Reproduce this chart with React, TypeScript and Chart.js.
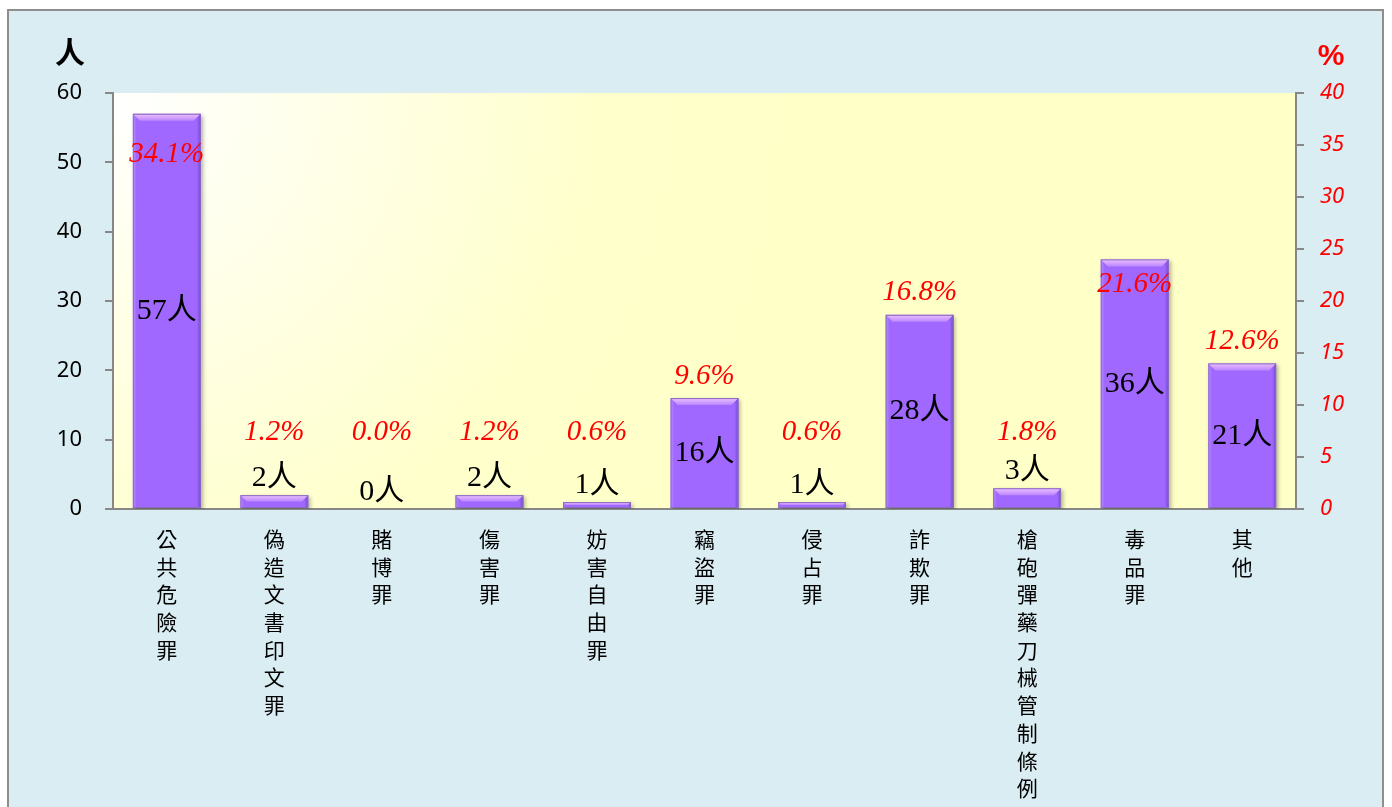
import React, { useEffect, useRef } from "react";
import { Chart, registerables } from "chart.js";

Chart.register(...registerables);

const categories = [
  "公共危險罪",
  "偽造文書印文罪",
  "賭博罪",
  "傷害罪",
  "妨害自由罪",
  "竊盜罪",
  "侵占罪",
  "詐欺罪",
  "槍砲彈藥刀械管制條例",
  "毒品罪",
  "其他",
];
const persons = [57, 2, 0, 2, 1, 16, 1, 28, 3, 36, 21];
const percents = [34.1, 1.2, 0.0, 1.2, 0.6, 9.6, 0.6, 16.8, 1.8, 21.6, 12.6];
const leftAxis = { min: 0, max: 60, step: 10, title: "人" };
const rightAxis = { min: 0, max: 40, step: 5, title: "%" };

const GRAY = "#878787";
const CJK = '"Noto Sans CJK TC"';

const framePlugin = {
  id: "frame",
  beforeDraw(chart: any) {
    const { ctx, chartArea: a } = chart;
    ctx.save();
    ctx.fillStyle = "#ffffff";
    ctx.fillRect(0, 0, chart.width, chart.height);
    ctx.fillStyle = "#DAEDF3";
    ctx.fillRect(8, 10, 1375, chart.height);
    ctx.strokeStyle = "#8E8E8E";
    ctx.lineWidth = 2;
    ctx.strokeRect(8, 10, 1375, chart.height + 10);
    const g = ctx.createRadialGradient(a.left, a.top, 0, a.left, a.top, 700);
    g.addColorStop(0, "#FFFFFF");
    g.addColorStop(0.7, "#FFFFCC");
    g.addColorStop(1, "#FFFFC8");
    ctx.fillStyle = g;
    ctx.fillRect(a.left, a.top, a.right - a.left, a.bottom - a.top);
    // axis titles
    ctx.textAlign = "center";
    ctx.textBaseline = "middle";
    ctx.fillStyle = "#000";
    ctx.font = `bold 30px ${CJK}`;
    ctx.fillText(leftAxis.title, 70, 52);
    ctx.fillStyle = "#FF0000";
    ctx.font = 'bold 30px "Liberation Sans"';
    ctx.fillText(rightAxis.title, 1331, 57);
    ctx.restore();
  },
  beforeDatasetsDraw(chart: any) {
    const ctx = chart.ctx;
    ctx.save();
    ctx.shadowColor = "rgba(0,0,0,0.3)";
    ctx.shadowOffsetX = 2;
    ctx.shadowOffsetY = 2;
    ctx.shadowBlur = 4;
  },
  afterDatasetsDraw(chart: any) {
    const ctx = chart.ctx;
    ctx.restore();
    const meta = chart.getDatasetMeta(0);
    const yL = chart.scales.y;
    const yR = chart.scales.y1;
    meta.data.forEach((bar: any, i: number) => {
      const { x, y, base, width } = bar.getProps(["x", "y", "base", "width"], true);
      const h = base - y;
      const l = x - width / 2;
      const r = x + width / 2;
      if (h > 0.5) {
        const b = Math.min(7, h / 2);
        const s = Math.min(4, h / 2);
        ctx.save();
        // left bevel
        const lg = ctx.createLinearGradient(l, 0, l + s, 0);
        lg.addColorStop(0, "rgba(200,165,255,0.9)");
        lg.addColorStop(1, "rgba(170,118,255,0)");
        ctx.fillStyle = lg;
        ctx.fillRect(l, y, s, h);
        // right bevel
        const rg = ctx.createLinearGradient(r - s, 0, r, 0);
        rg.addColorStop(0, "rgba(120,80,210,0)");
        rg.addColorStop(1, "rgba(100,60,190,0.9)");
        ctx.fillStyle = rg;
        ctx.fillRect(r - s, y, s, h);
        // top bevel
        const tg = ctx.createLinearGradient(0, y, 0, y + b);
        tg.addColorStop(0, "#EFC0FF");
        tg.addColorStop(1, "#B987FF");
        ctx.fillStyle = tg;
        ctx.beginPath();
        ctx.moveTo(l, y);
        ctx.lineTo(r, y);
        ctx.lineTo(r - b, y + b);
        ctx.lineTo(l + b, y + b);
        ctx.closePath();
        ctx.fill();
        ctx.strokeStyle = "#8A6CC0";
        ctx.lineWidth = 1;
        ctx.strokeRect(l + 0.5, y + 0.5, width - 1, h - 1);
        ctx.restore();
      }
      // person label
      ctx.save();
      ctx.textAlign = "center";
      ctx.textBaseline = "middle";
      ctx.fillStyle = "#000";
      ctx.font = `30px "Liberation Serif", ${CJK}`;
      const v = persons[i];
      const py = v < 5 ? y - 17 : (y + base) / 2;
      ctx.fillText(`${v}人`, x, py);
      const p = percents[i];
      const qy = v > 30 ? yR.getPixelForValue(p) : Math.min(y - 22, yL.getPixelForValue(11));
      ctx.fillStyle = "#FF0000";
      ctx.font = 'italic 29px "Liberation Serif"';
      ctx.fillText(`${p.toFixed(1)}%`, x, qy);
      ctx.restore();
    });
  },
};

export default function App() {
  const ref = useRef<HTMLCanvasElement>(null);
  useEffect(() => {
    if (!ref.current) return;
    const chart = new Chart(ref.current, {
      type: "bar",
      data: {
        labels: categories.map((c) => c.split("")),
        datasets: [
          {
            data: persons,
            backgroundColor: "#A068FF",
            borderWidth: 0,
            barPercentage: 0.63,
            categoryPercentage: 1,
            yAxisID: "y",
          },
        ],
      },
      options: {
        responsive: false,
        animation: false,
        layout: { padding: { top: 93, left: 0, right: 0, bottom: 0 } },
        plugins: { legend: { display: false }, tooltip: { enabled: false }, title: { display: false } },
        scales: {
          x: {
            grid: { display: false, drawTicks: false },
            border: { display: true, color: GRAY, width: 2 },
            ticks: {
              color: "#000",
              font: { family: CJK, size: 21, lineHeight: 1.32 },
              padding: 16,
              maxRotation: 0,
              minRotation: 0,
              autoSkip: false,
            },
            afterFit: (s: any) => {
              s.height = 807 - 509;
            },
          },
          y: {
            position: "left",
            min: leftAxis.min,
            max: leftAxis.max,
            ticks: {
              stepSize: leftAxis.step,
              color: "#000",
              font: { family: '"Noto Sans"', size: 22 },
              padding: 23,
            },
            grid: { display: true, drawOnChartArea: false, drawTicks: true, tickLength: 8, color: GRAY, lineWidth: 2 },
            border: { display: true, color: GRAY, width: 2 },
            afterFit: (s: any) => {
              s.width = 113;
            },
          },
          y1: {
            position: "right",
            min: rightAxis.min,
            max: rightAxis.max,
            ticks: {
              stepSize: rightAxis.step,
              color: "#FF0000",
              font: { family: '"Noto Sans"', size: 22, style: "italic" },
              padding: 16,
            },
            grid: { display: true, drawOnChartArea: false, drawTicks: true, tickLength: 8, color: GRAY, lineWidth: 2 },
            border: { display: true, color: GRAY, width: 2 },
            afterFit: (s: any) => {
              s.width = 1392 - 1296;
            },
          },
        },
      },
      plugins: [framePlugin],
    });
    return () => chart.destroy();
  }, []);
  return (
    <div style={{ position: "fixed", left: 0, top: 0, width: 1392, height: 807, overflow: "hidden" }}>
      <canvas ref={ref} width={1392} height={807} style={{ display: "block" }} />
    </div>
  );
}
